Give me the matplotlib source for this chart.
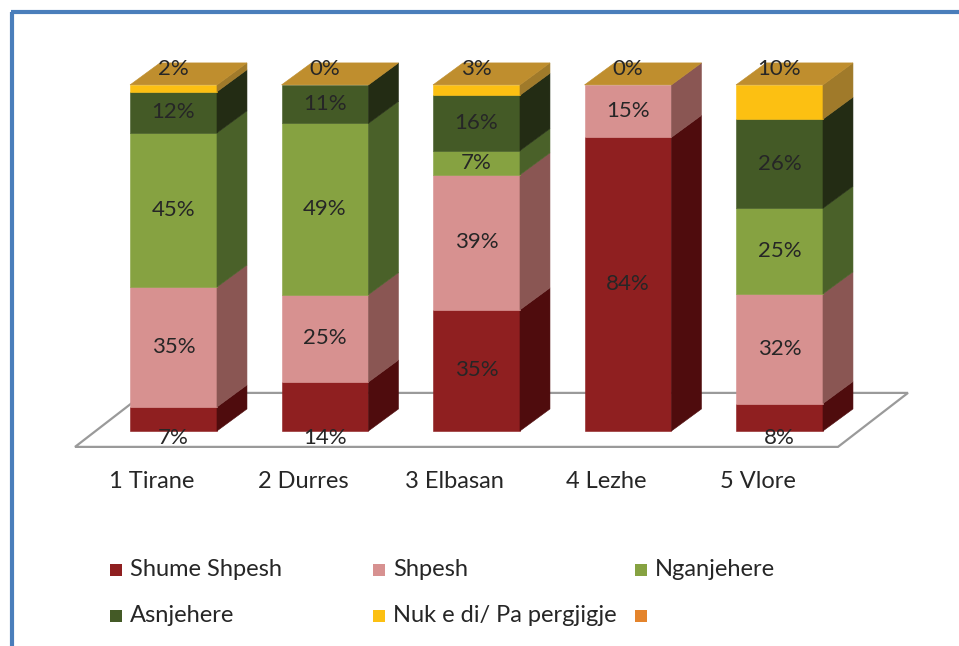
import matplotlib
matplotlib.use("Agg")
import matplotlib.pyplot as plt
from matplotlib.patches import Polygon, Rectangle
from matplotlib.lines import Line2D

plt.rcParams['font.family'] = ['Lato', 'DejaVu Sans']

# data (percent)
cities = ['1 Tirane', '2 Durres', '3 Elbasan', '4 Lezhe', '5 Vlore']
series = ['Shume Shpesh', 'Shpesh', 'Nganjehere', 'Asnjehere', 'Nuk e di/ Pa pergjigje']
shume_shpesh = [7, 14, 35, 84, 8]
shpesh = [35, 25, 39, 15, 32]
nganjehere = [45, 49, 7, 0, 25]
asnjehere = [12, 11, 16, 0, 26]
nuk_e_di = [2, 0, 3, 0, 10]
values = [shume_shpesh, shpesh, nganjehere, asnjehere, nuk_e_di]

front_cols = ['#8F1F20', '#D79190', '#86A241', '#445A26', '#FCC012']
side_cols = ['#4F0C0D', '#8A5653', '#4A6129', '#232C14', '#A07A2A']
top_col = '#BF8E2E'
extra_col = '#E4842C'
txt_col = '#262626'

fig = plt.figure(figsize=(9.59, 6.46), dpi=100)
ax = fig.add_axes([22 / 959, 7.4 / 646, 909 / 959, 605.6 / 646])
ax.set_xlim(-1, 5)
ax.set_ylim(-60, 115)
ax.set_axis_off()

w = 0.287      # half width of bar front
ddx = 0.198    # depth offset in x
ddy = 6.36     # depth offset in y

# floor
floor = Polygon([(-0.65, -4.6), (4.386, -4.6), (4.848, 11.0), (-0.188, 11.0)],
                closed=True, facecolor='white', edgecolor='#9A9A9A', lw=1.6, zorder=1)
ax.add_patch(floor)

for i, city in enumerate(cities):
    total = sum(v[i] for v in values)
    base = 0.0
    x0, x1 = i - w, i + w
    for s in range(len(series)):
        v = values[s][i]
        h = v / total * 100
        y0, y1 = base, base + h
        if h > 0:
            ax.add_patch(Polygon([(x0, y0), (x1, y0), (x1, y1), (x0, y1)], closed=True,
                                 facecolor=front_cols[s], edgecolor=front_cols[s], lw=0.4, zorder=3))
            ax.add_patch(Polygon([(x1, y0), (x1 + ddx, y0 + ddy), (x1 + ddx, y1 + ddy), (x1, y1)],
                                 closed=True, facecolor=side_cols[s], edgecolor=side_cols[s],
                                 lw=0.4, zorder=3))
        # data labels
        if v > 0 or s == len(series) - 1:
            ly = (y0 + y1) / 2
            if s == 0 and v < 15:
                ly = -2.0
            elif s == len(series) - 1:
                ly = 104.5
            ax.text(i, ly, f'{v}%', ha='center', va='center', fontsize=16,
                    color=txt_col, zorder=6)
        base = y1
    # top face
    ax.add_patch(Polygon([(x0, base), (x1, base), (x1 + ddx, base + ddy), (x0 + ddx, base + ddy)],
                         closed=True, facecolor=top_col, edgecolor=top_col, lw=0.4, zorder=4))
    ax.text(i - 0.145, -14.7, city, ha='center', va='center', fontsize=17, color=txt_col)

# legend, three columns laid out like the original
leg_cols = front_cols + [extra_col]
leg_names = series + ['']
col_x = [116, 379, 641]
row_y = [570, 616]
for k, (name, c) in enumerate(zip(leg_names, leg_cols)):
    cx = col_x[k % 3]
    cy = row_y[k // 3]
    fig.add_artist(Rectangle(((cx - 6) / 959, 1 - (cy + 6) / 646), 12 / 959, 12 / 646,
                             transform=fig.transFigure, facecolor=c, edgecolor='none'))
    if name:
        fig.text((cx + 14) / 959, 1 - cy / 646, name, ha='left', va='center',
                 fontsize=17, color=txt_col)

# blue frame on left and top
frame_col = '#4A7EBB'
fig.add_artist(Line2D([12 / 959, 12 / 959], [0, 1 - 12 / 646], transform=fig.transFigure,
                      color=frame_col, lw=3, solid_capstyle='butt'))
fig.add_artist(Line2D([10.5 / 959, 1], [1 - 12 / 646, 1 - 12 / 646], transform=fig.transFigure,
                      color=frame_col, lw=3, solid_capstyle='butt'))

fig.savefig('out.png', dpi=100)
